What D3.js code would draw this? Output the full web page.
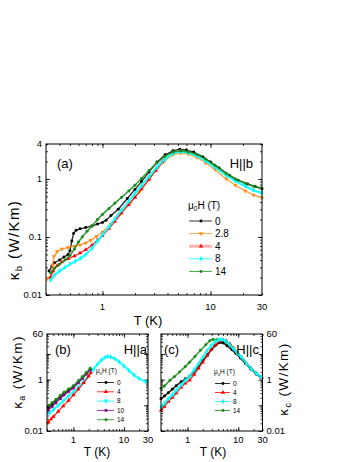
<!DOCTYPE html>
<html>
<head>
<meta charset="utf-8">
<script src="https://cdn.jsdelivr.net/npm/d3@7"></script>
<style>
body{margin:0;background:#fff}
text{font-family:"Liberation Sans",Arial,sans-serif;fill:#000}
</style>
</head>
<body>
<svg width="357" height="462"></svg>
<script>
// panel (a): kappa_b, H||b  [T (K), kappa (W/Km)]
const aH0 = [[0.32,0.026],[0.34,0.031],[0.36,0.036],[0.40,0.040],[0.44,0.045],[0.48,0.050],[0.50,0.058],[0.52,0.085],[0.54,0.115],[0.57,0.130],[0.62,0.138],[0.70,0.145],[0.80,0.155],[0.90,0.167],[1.0,0.178],[1.08,0.195],[1.2,0.235],[1.4,0.30],[1.7,0.46],[2.0,0.66],[2.3,0.90],[2.7,1.32],[3.2,1.95],[3.8,2.6],[4.5,3.05],[5.2,3.25],[6.0,3.15],[7.0,2.9],[8.5,2.4],[10,1.95],[12,1.55],[15,1.15],[18,0.95],[22,0.82],[26,0.74],[30,0.68]];
const aH28 = [[0.31,0.019],[0.33,0.020],[0.345,0.033],[0.355,0.046],[0.38,0.056],[0.42,0.062],[0.48,0.066],[0.55,0.069],[0.62,0.073],[0.70,0.079],[0.78,0.088],[0.88,0.102],[1.0,0.122],[1.2,0.165],[1.45,0.245],[1.8,0.39],[2.2,0.61],[2.7,1.0],[3.2,1.5],[3.8,2.1],[4.5,2.6],[5.3,2.78],[6.2,2.68],[7.5,2.35],[9,1.9],[11,1.45],[14,1.0],[17,0.78],[21,0.62],[25,0.53],[30,0.47]];
const aH4 = [[0.33,0.020],[0.35,0.026],[0.38,0.032],[0.42,0.037],[0.48,0.042],[0.55,0.047],[0.62,0.053],[0.70,0.060],[0.80,0.072],[0.90,0.088],[1.0,0.105],[1.15,0.14],[1.3,0.185],[1.5,0.26],[1.75,0.36],[2.0,0.48],[2.3,0.67],[2.7,0.98],[3.1,1.38],[3.6,1.95]];
const aH8 = [[0.33,0.018],[0.36,0.022],[0.40,0.026],[0.45,0.030],[0.50,0.034],[0.56,0.038],[0.63,0.043],[0.70,0.050],[0.80,0.064],[0.90,0.085],[1.0,0.11],[1.15,0.15],[1.3,0.205],[1.5,0.29],[1.75,0.41],[2.0,0.56],[2.3,0.77],[2.7,1.1],[3.2,1.6],[3.8,2.2],[4.5,2.75],[5.3,2.95],[6.2,2.85],[7.5,2.5],[9,2.05],[11,1.6],[14,1.15],[17,0.92],[21,0.75],[25,0.64],[30,0.57]];
const aH14 = [[0.33,0.024],[0.36,0.029],[0.40,0.034],[0.45,0.040],[0.50,0.048],[0.55,0.062],[0.60,0.082],[0.65,0.100],[0.72,0.125],[0.80,0.155],[0.90,0.20],[1.0,0.245],[1.15,0.31],[1.3,0.38],[1.5,0.48],[1.75,0.62],[2.0,0.78],[2.3,1.02],[2.7,1.4],[3.2,1.9],[3.8,2.45],[4.5,2.9],[5.3,3.05],[6.2,2.95],[7.5,2.65],[9,2.2],[11,1.72],[14,1.25],[17,1.0],[21,0.84],[25,0.75],[29,0.70]];

// panel (b): kappa_a, H||a
const bH0 = [[0.32,0.08],[0.38,0.11],[0.45,0.15],[0.55,0.21],[0.65,0.28],[0.8,0.38],[1.0,0.52],[1.25,0.8],[1.5,1.15],[1.8,1.7],[2.15,2.5]];
const bH4 = [[0.32,0.022],[0.36,0.029],[0.4,0.036],[0.5,0.058],[0.63,0.095],[0.8,0.155],[1.0,0.25],[1.25,0.42],[1.6,0.75],[2.0,1.35],[2.2,1.85]];
const bH8 = [[0.34,0.05],[0.4,0.068],[0.5,0.1],[0.63,0.15],[0.8,0.23],[1.0,0.33],[1.25,0.5],[1.6,0.85],[2.0,1.4],[2.5,2.5],[3.0,4.0],[3.6,5.8],[4.2,7.3],[4.8,8.0],[5.5,7.7],[6.5,6.6],[8,5.0],[10,3.4],[12.5,2.3],[16,1.5],[20,1.1],[27,0.82]];
const bH10 = [[0.32,0.065],[0.38,0.09],[0.45,0.125],[0.55,0.18],[0.65,0.25],[0.8,0.34],[1.0,0.47],[1.25,0.75],[1.5,1.1],[1.8,1.65],[2.15,2.4]];
const bH14 = [[0.33,0.10],[0.38,0.13],[0.45,0.17],[0.55,0.24],[0.65,0.32],[0.8,0.43],[1.0,0.58],[1.25,0.9],[1.5,1.3],[1.8,1.9],[2.15,2.8]];

// panel (c): kappa_c, H||c
const cH0 = [[0.3,0.18],[0.35,0.23],[0.42,0.31],[0.5,0.42],[0.6,0.58],[0.75,0.82],[0.9,1.05],[1.1,1.35],[1.35,2.0],[1.65,3.3],[2.0,5.6],[2.5,9.5],[3.0,15],[3.6,22],[4.3,28],[5.0,27],[6.0,21],[7.5,14.5],[9,10.5],[11,7],[14,4.2],[18,2.5],[23,1.6],[29,1.15]];
const cH4 = [[0.3,0.064],[0.35,0.09],[0.42,0.14],[0.5,0.2],[0.6,0.3],[0.75,0.5],[0.9,0.72],[1.1,0.94],[1.35,1.6],[1.65,2.8],[2.0,4.8],[2.4,8.5],[2.9,14.5],[3.5,23],[4.2,31],[5.0,35],[5.8,32],[6.8,25],[8,17.5],[9.5,11.5],[11.5,7.7],[14.5,4.3],[18,2.7],[23,1.75],[29,1.2]];
const cH8 = [[0.3,0.086],[0.35,0.12],[0.42,0.18],[0.5,0.26],[0.6,0.38],[0.75,0.62],[0.9,0.92],[1.1,1.35],[1.35,2.4],[1.65,4.2],[2.0,7.6],[2.4,13],[2.9,21],[3.5,30],[4.2,36],[4.8,37],[5.5,33],[6.5,25],[8,16],[9.5,11],[11.5,7.5],[14.5,4.2],[18,2.6],[23,1.7],[29,1.2]];
const cH14 = [[0.3,0.45],[0.35,0.56],[0.45,0.94],[0.55,1.3],[0.7,2.0],[0.9,3.2],[1.1,4.8],[1.4,8],[1.8,14],[2.3,23],[2.75,33],[3.2,37],[3.8,36],[4.5,33],[5.5,29],[6.5,23],[8,15.5],[10,9.8],[13,5.4],[17,3.0],[22,1.9],[28,1.25]];

// tick labels
const xLabels = [1, 10, 30];
const aYLabels = [0.01, 0.1, 1, 4];
const bcYLabels = [0.01, 1, 60];

const svg = d3.select("svg");

const sym = {
  circle: d3.symbol().type(d3.symbolCircle).size(7),
  tri: d3.symbol().type(d3.symbolTriangle).size(8),
  diamond: d3.symbol().type(d3.symbolDiamond).size(8),
  square: d3.symbol().type(d3.symbolSquare).size(7)
};

function logTicks(lo, hi) {
  let out = [];
  for (let e = -3; e <= 3; e++)
    for (let m = 1; m <= 9; m++) {
      let v = +(m * Math.pow(10, e)).toPrecision(3);
      if (v >= lo * 0.999 && v <= hi * 1.001) out.push(v);
    }
  return out;
}

function drawPanel(p) {
  let g = svg.append("g");
  let x = d3.scaleLog().domain([0.3, 30]).range([p.x0, p.x1]);
  let y = d3.scaleLog().domain(p.yDom).range([p.y1, p.y0]);

  let xMinor = logTicks(0.3, 30), xMajor = [1, 10];
  let yMinor = logTicks(p.yDom[0], p.yDom[1]),
      yMajor = [0.01, 0.1, 1, 10].filter(v => v <= p.yDom[1]);

  let axes = [
    [d3.axisBottom(x), `translate(0,${p.y1})`, xMinor, xMajor],
    [d3.axisTop(x), `translate(0,${p.y0})`, xMinor, xMajor],
    [d3.axisLeft(y), `translate(${p.x0},0)`, yMinor, yMajor],
    [d3.axisRight(y), `translate(${p.x1},0)`, yMinor, yMajor]
  ];
  axes.forEach(([ax, tr, minor, major]) => {
    g.append("g").attr("transform", tr)
      .call(ax.tickValues(minor).tickSize(-2).tickFormat(""))
      .call(s => s.select(".domain").remove());
    g.append("g").attr("transform", tr)
      .call(ax.tickValues(major).tickSize(-4).tickFormat(""))
      .call(s => s.select(".domain").remove());
  });
  g.selectAll(".tick line").attr("stroke", "#000").attr("stroke-width", 0.8);

  // series
  let line = d3.line().x(d => x(d[0])).y(d => y(d[1]));
  p.series.forEach(s => {
    g.append("path").datum(s.data)
      .attr("d", line).attr("fill", "none")
      .attr("stroke", s.color).attr("stroke-width", s.lw || 1.3)
      .attr("stroke-opacity", 0.85);
    g.selectAll(null).data(s.data).join("path")
      .attr("d", sym[s.shape])
      .attr("transform", d => `translate(${x(d[0])},${y(d[1])})` + (s.flip ? " rotate(180)" : ""))
      .attr("fill", s.color);
  });

  g.append("rect").attr("x", p.x0).attr("y", p.y0)
    .attr("width", p.x1 - p.x0).attr("height", p.y1 - p.y0)
    .attr("fill", "none").attr("stroke", "#000").attr("stroke-width", 1);

  // tick labels
  g.selectAll(null).data(xLabels).join("text")
    .attr("x", d => x(d)).attr("y", p.y1 + p.xlDy)
    .attr("text-anchor", "middle").attr("font-size", 9.5).text(d => d);
  g.selectAll(null).data(p.yLabels).join("text")
    .attr("x", p.yRight ? p.x1 + 4 : p.x0 - 4).attr("y", d => y(d)).attr("dy", "0.35em")
    .attr("text-anchor", p.yRight ? "start" : "end").attr("font-size", 9.5).text(d => d);

  // axis titles
  g.append("text").attr("x", p.xt[0]).attr("y", p.xt[1])
    .attr("text-anchor", "middle").attr("font-size", p.xtSize).text("T (K)");
  let yt = g.append("text")
    .attr("transform", `translate(${p.yt[0]},${p.yt[1]}) rotate(-90)`)
    .attr("text-anchor", "middle").attr("font-size", p.ytSize)
    .attr("letter-spacing", 1.4);
  yt.append("tspan").text("κ");
  yt.append("tspan").attr("font-size", p.ytSize * 0.65).attr("dy", 3).text(p.sub);
  yt.append("tspan").attr("dy", -3).text(" (W/Km)");

  g.append("text").attr("x", p.lab[0]).attr("y", p.lab[1]).attr("font-size", 13).text(p.label);
  g.append("text").attr("x", p.dir[0]).attr("y", p.dir[1]).attr("font-size", 13)
    .attr("text-anchor", "end").text(p.dirText);

  // legend
  let L = p.legend;
  let title = g.append("text").attr("x", L.x).attr("y", L.ty).attr("font-size", L.fs);
  title.append("tspan").text("μ");
  title.append("tspan").attr("font-size", L.fs * 0.65).attr("dy", 2).text("0");
  title.append("tspan").attr("dy", -2).text("H (T)");
  p.series.slice().sort((a, b) => a.order - b.order).forEach((s, i) => {
    let yy = L.y + i * L.dy;
    g.append("line").attr("x1", L.x + 1).attr("x2", L.x + L.w).attr("y1", yy).attr("y2", yy)
      .attr("stroke", s.color).attr("stroke-width", s.legLw || 1).attr("stroke-opacity", s.legOp || 0.8);
    g.append("path").attr("d", sym[s.shape])
      .attr("transform", `translate(${L.x + 1 + L.w / 2},${yy})` + (s.flip ? " rotate(180)" : ""))
      .attr("fill", s.color);
    g.append("text").attr("x", L.x + L.w + 3).attr("y", yy).attr("dy", "0.35em")
      .attr("font-size", L.fs).text(s.name);
  });
}

const BLACK = "#000000", ORANGE = "#ff8c1a", RED = "#ff0000", CYAN = "#00ffff",
      GREEN = "#1a8a1a", PURPLE = "#8b008b";

drawPanel({
  x0: 46, x1: 262, y0: 144, y1: 295, yDom: [0.01, 4],
  yLabels: aYLabels, xlDy: 15, xt: [148, 325], xtSize: 13,
  yt: [19, 240], ytSize: 15, sub: "b",
  label: "(a)", lab: [57, 168], dir: [253, 168], dirText: "H||b",
  legend: {x: 188, ty: 209, y: 221, dy: 12.6, w: 24, fs: 10},
  series: [
    {name: "0", data: aH0, color: BLACK, shape: "circle", order: 0},
    {name: "2.8", data: aH28, color: ORANGE, shape: "tri", flip: true, order: 1},
    {name: "4", data: aH4, color: RED, shape: "tri", order: 2, legLw: 3, legOp: 0.3},
    {name: "8", data: aH8, color: CYAN, shape: "diamond", order: 3, lw: 2.2},
    {name: "14", data: aH14, color: GREEN, shape: "circle", order: 4, lw: 1.6}
  ]
});

drawPanel({
  x0: 47, x1: 148, y0: 334, y1: 431, yDom: [0.01, 60],
  yLabels: bcYLabels, xlDy: 12, xt: [97, 456], xtSize: 12,
  yt: [22, 372], ytSize: 13.5, sub: "a",
  label: "(b)", lab: [55, 354], dir: [147, 354], dirText: "H||a",
  legend: {x: 96, ty: 373, y: 382.5, dy: 9.3, w: 18, fs: 6.5},
  series: [
    {name: "8", data: bH8, color: CYAN, shape: "diamond", order: 2, lw: 2.2},
    {name: "4", data: bH4, color: RED, shape: "tri", order: 1},
    {name: "0", data: bH0, color: BLACK, shape: "circle", order: 0},
    {name: "10", data: bH10, color: PURPLE, shape: "square", order: 3},
    {name: "14", data: bH14, color: GREEN, shape: "circle", order: 4}
  ]
});

drawPanel({
  x0: 161, x1: 262.5, y0: 334, y1: 431, yDom: [0.01, 60],
  yLabels: bcYLabels, yRight: true, xlDy: 12, xt: [213, 456], xtSize: 12,
  yt: [288, 379], ytSize: 13.5, sub: "c",
  label: "(c)", lab: [164, 354], dir: [259, 354], dirText: "H||c",
  legend: {x: 214, ty: 374, y: 383.5, dy: 9, w: 16, fs: 6.5},
  series: [
    {name: "14", data: cH14, color: GREEN, shape: "circle", order: 3, lw: 1.6},
    {name: "0", data: cH0, color: BLACK, shape: "circle", order: 0, lw: 1.6},
    {name: "4", data: cH4, color: RED, shape: "tri", order: 1},
    {name: "8", data: cH8, color: CYAN, shape: "diamond", order: 2, lw: 2.2}
  ]
});
</script>
</body>
</html>
